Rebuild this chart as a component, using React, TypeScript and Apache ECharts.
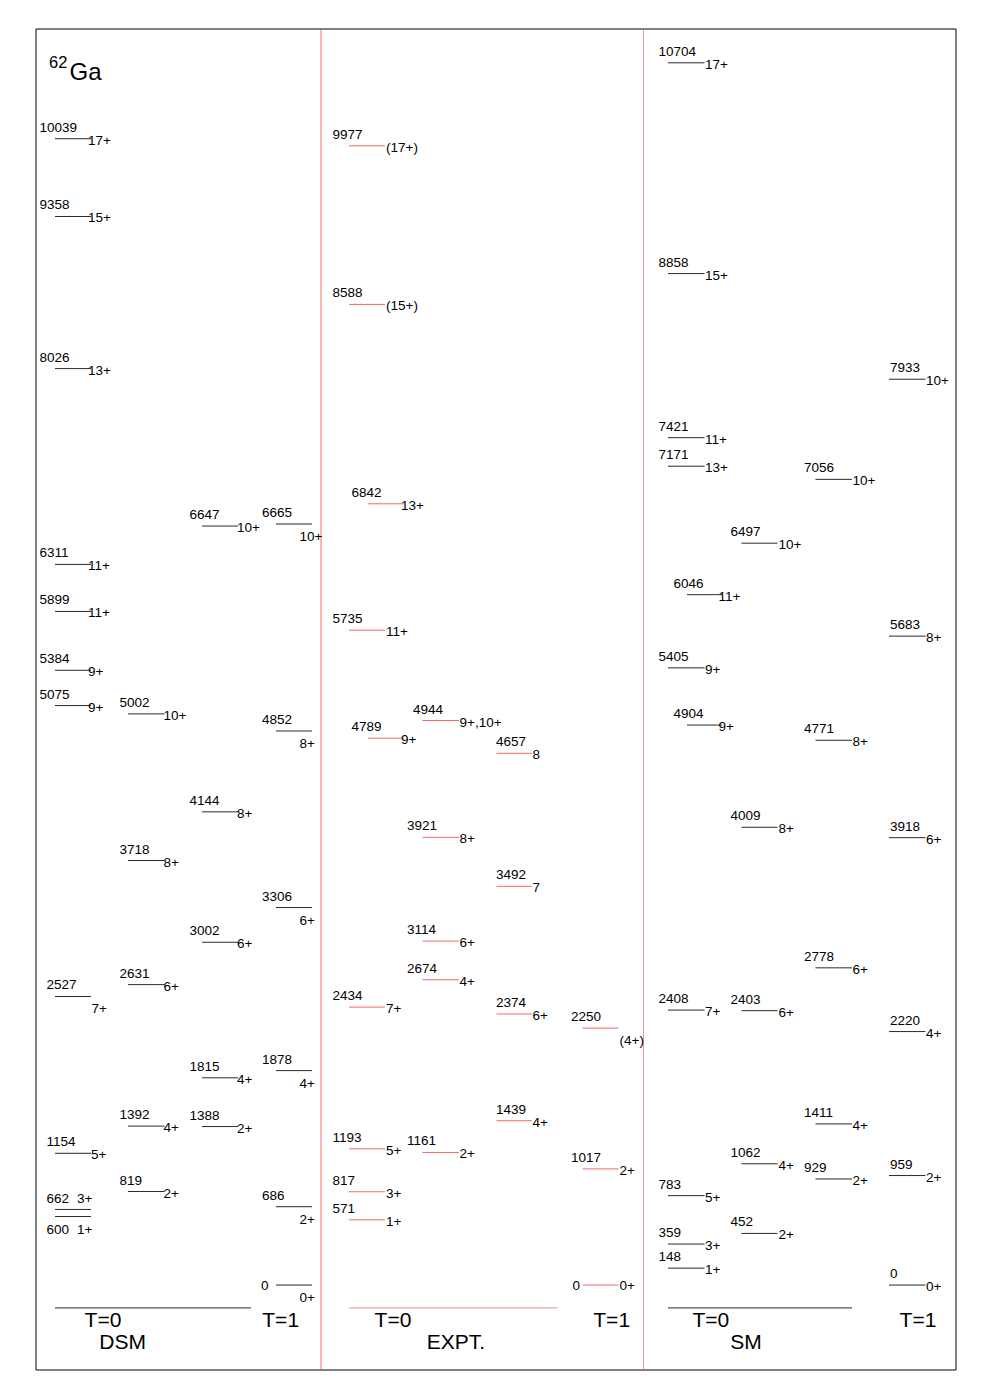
import React, { useEffect, useRef } from "react";
import * as echarts from "echarts";

// ---- Level energies (keV) and spins ----
// optional third element: energy at which the level is drawn when it differs from its label
type Lv = [number, string, number?];
const dsmT0a: Lv[] = [[10039, "17+"], [9358, "15+"], [8026, "13+"], [6311, "11+"], [5899, "11+"], [5384, "9+"], [5075, "9+"], [2527, "7+"], [1154, "5+"], [662, "3+"], [600, "1+"]];
const dsmT0b: Lv[] = [[5002, "10+"], [3718, "8+"], [2631, "6+"], [1392, "4+"], [819, "2+"]];
const dsmT0c: Lv[] = [[6647, "10+"], [4144, "8+"], [3002, "6+"], [1815, "4+"], [1388, "2+"]];
const dsmT1: Lv[] = [[6665, "10+"], [4852, "8+"], [3306, "6+"], [1878, "4+"], [686, "2+"], [0, "0+"]];

const exptT0a: Lv[] = [[9977, "(17+)"], [8588, "(15+)"], [5735, "11+"], [2434, "7+"], [1193, "5+"], [817, "3+"], [571, "1+"]];
const exptT0b: Lv[] = [[6842, "13+"], [4789, "9+"]];
const exptT0c: Lv[] = [[4944, "9+,10+"], [3921, "8+"], [3114, "6+", 3012], [2674, "4+"], [1161, "2+"]];
const exptT0d: Lv[] = [[4657, "8"], [3492, "7"], [2374, "6+"], [1439, "4+"]];
const exptT1: Lv[] = [[2250, "(4+)"], [1017, "2+"], [0, "0+"]];

const smT0a: Lv[] = [[10704, "17+"], [8858, "15+"], [7421, "11+"], [7171, "13+"], [5405, "9+"], [2408, "7+"], [783, "5+"], [359, "3+"], [148, "1+"]];
const smT0b: Lv[] = [[6046, "11+"], [4904, "9+"]];
const smT0c: Lv[] = [[6497, "10+"], [4009, "8+"], [2403, "6+"], [1062, "4+"], [452, "2+"]];
const smT0d: Lv[] = [[7056, "10+"], [4771, "8+"], [2778, "6+"], [1411, "4+"], [929, "2+"]];
const smT1: Lv[] = [[7933, "10+"], [5683, "8+"], [3918, "6+"], [2220, "4+"], [959, "2+"], [0, "0+"]];

const panelTitles = ["DSM", "EXPT.", "SM"];
const isospinLabels = ["T=0", "T=1"];
const nucleusMass = "62";
const nucleusSymbol = "Ga";
const baselineEnergy = -200;

// ---- Layout (x in page-pixel-like units of the hidden x axis) ----
const BLACK = "#2a2a2a";
const RED = "#f06a6a";
const FONT = "Liberation Sans, Arial, Helvetica, sans-serif";
const LABEL_SIZE = 13.5;

type Col = { data: Lv[]; x0: number; x1: number; eX: number; sX: number; sDy?: number; color: string };
const columns: Col[] = [
  { data: dsmT0a, x0: 55, x1: 91, eX: 39.5, sX: 88, color: BLACK },
  { data: dsmT0b, x0: 128, x1: 164.5, eX: 119.5, sX: 163.5, color: BLACK },
  { data: dsmT0c, x0: 202, x1: 238, eX: 189.5, sX: 237, color: BLACK },
  { data: dsmT1, x0: 276, x1: 312, eX: 262, sX: 299.5, sDy: 12.5, color: BLACK },
  { data: exptT0a, x0: 349, x1: 385, eX: 332.5, sX: 386, color: RED },
  { data: exptT0b, x0: 368, x1: 404, eX: 351.5, sX: 401, color: RED },
  { data: exptT0c, x0: 422.5, x1: 459, eX: 407, sX: 459.5, color: RED },
  { data: exptT0d, x0: 496.5, x1: 532, eX: 496, sX: 532.5, color: RED },
  { data: exptT1, x0: 582.5, x1: 618.5, eX: 571, sX: 619.5, color: RED },
  { data: smT0a, x0: 668, x1: 704.5, eX: 658.5, sX: 705, color: BLACK },
  { data: smT0b, x0: 687, x1: 722, eX: 673.5, sX: 718.5, color: BLACK },
  { data: smT0c, x0: 741.5, x1: 777.5, eX: 730.5, sX: 778.5, color: BLACK },
  { data: smT0d, x0: 815.5, x1: 852, eX: 804, sX: 852.5, color: BLACK },
  { data: smT1, x0: 889, x1: 925.5, eX: 890, sX: 926, color: BLACK },
];

// Per-level label placement exceptions: "columnIndex:energy"
const overrides: Record<string, { eX?: number; eDy?: number; sX?: number; sDy?: number }> = {
  "0:2527": { eX: 46.5, sX: 91.5, sDy: 12 },
  "0:1154": { eX: 46.5, sX: 91 },
  "0:662": { eX: 46.5, eDy: -10.5, sX: 77, sDy: -10.5 },
  "0:600": { eX: 46.5, eDy: 13, sX: 77, sDy: 13 },
  "3:0": { eX: 261, eDy: 0.5 },
  "6:4944": { eX: 413 },
  "8:2250": { sDy: 12.5 },
  "8:0": { eX: 572.5, eDy: 0.5, sDy: 0.5 },
};

const baselines = [
  { x0: 55, x1: 251, color: "#555555" },
  { x0: 349, x1: 557.5, color: "#f4a0a0" },
  { x0: 668, x1: 852, color: "#555555" },
];

type Level = { x0: number; x1: number; e: number; y: number; spin: string; eX: number; eDy: number; sX: number; sDy: number; color: string };
const levels: Level[] = [];
columns.forEach((c, ci) => {
  c.data.forEach(([e, spin, drawn]) => {
    const o = overrides[ci + ":" + e] || {};
    levels.push({
      x0: c.x0, x1: c.x1, e, y: drawn ?? e, spin, color: c.color,
      eX: o.eX ?? c.eX, eDy: o.eDy ?? -11.5,
      sX: o.sX ?? c.sX, sDy: o.sDy ?? (c.sDy ?? 1.5),
    });
  });
});

export default function App() {
  const ref = useRef<HTMLDivElement>(null);
  useEffect(() => {
    if (!ref.current) return;
    const chart = echarts.init(ref.current, null, { renderer: "svg" });
    const txt = (text: string, x: number, y: number, size: number, align = "center") => ({
      type: "text",
      style: { text, x, y, fill: "#000", font: `${size}px ${FONT}`, align, verticalAlign: "middle" },
    });
    chart.setOption({
      animation: false,
      backgroundColor: "#fff",
      grid: { left: 36, top: 29, width: 920, height: 1341, show: true, borderColor: "#000", borderWidth: 1, backgroundColor: "transparent" },
      xAxis: { type: "value", min: 36, max: 956, show: false },
      yAxis: { type: "value", min: -744, max: 11000, show: false },
      graphic: [
        { type: "line", shape: { x1: 321, y1: 30, x2: 321, y2: 1369 }, style: { stroke: "#ffb4b4", lineWidth: 2 }, z: 1 },
        { type: "line", shape: { x1: 643.5, y1: 30, x2: 643.5, y2: 1369 }, style: { stroke: "#e39a9a", lineWidth: 1 }, z: 1 },
        { type: "text", style: { text: nucleusMass, x: 49, y: 62, fill: "#000", font: `16.5px ${FONT}`, align: "left", verticalAlign: "middle" } },
        { type: "text", style: { text: nucleusSymbol, x: 69.5, y: 71.5, fill: "#000", font: `24px ${FONT}`, align: "left", verticalAlign: "middle" } },
        txt(isospinLabels[0], 103, 1319.5, 21),
        txt(panelTitles[0], 122.7, 1341.5, 21),
        txt(isospinLabels[1], 280.7, 1319.5, 21),
        txt(isospinLabels[0], 393, 1319.5, 21),
        txt(panelTitles[1], 456, 1341.5, 21),
        txt(isospinLabels[1], 611.7, 1319.5, 21),
        txt(isospinLabels[0], 710.8, 1319.5, 21),
        txt(panelTitles[2], 746, 1341.5, 21),
        txt(isospinLabels[1], 918, 1319.5, 21),
      ],
      series: [
        {
          type: "custom",
          coordinateSystem: "cartesian2d",
          data: baselines.map((b) => [b.x0, b.x1, baselineEnergy]),
          renderItem: (params: any, api: any) => {
            const b = baselines[params.dataIndex];
            const p0 = api.coord([b.x0, baselineEnergy]);
            const p1 = api.coord([b.x1, baselineEnergy]);
            return { type: "line", shape: { x1: p0[0], y1: p0[1], x2: p1[0], y2: p1[1] }, style: { stroke: b.color, lineWidth: 1.3 } };
          },
        },
        {
          type: "custom",
          coordinateSystem: "cartesian2d",
          data: levels.map((l) => [l.x0, l.x1, l.y]),
          renderItem: (params: any, api: any) => {
            const l = levels[params.dataIndex];
            const p0 = api.coord([l.x0, l.y]);
            const p1 = api.coord([l.x1, l.y]);
            const ex = api.coord([l.eX, l.y])[0];
            const sx = api.coord([l.sX, l.y])[0];
            const y = p0[1];
            return {
              type: "group",
              children: [
                { type: "line", shape: { x1: p0[0], y1: y, x2: p1[0], y2: y }, style: { stroke: l.color, lineWidth: 1 } },
                { type: "text", style: { text: String(l.e), x: ex, y: y + l.eDy, fill: "#000", font: `${LABEL_SIZE}px ${FONT}`, align: "left", verticalAlign: "middle" } },
                { type: "text", style: { text: l.spin, x: sx, y: y + l.sDy, fill: "#000", font: `${LABEL_SIZE}px ${FONT}`, align: "left", verticalAlign: "middle" } },
              ],
            };
          },
        },
      ],
    });
    return () => chart.dispose();
  }, []);
  return <div ref={ref} style={{ position: "absolute", left: 0, top: 0, width: 1000, height: 1400, background: "#fff" }} />;
}
